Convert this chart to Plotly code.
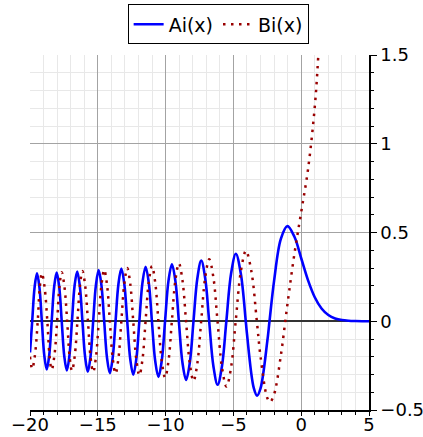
import plotly.graph_objects as go

# Ai(x): values (zeros, extrema, intermediate points)
ai_x = [-20.0, -19.838, -19.661, -19.484, -19.305, -19.126, -18.946, -18.766, -18.584, -18.401,
        -18.217, -18.033, -17.847, -17.661, -17.473, -17.285, -17.096, -16.906, -16.714, -16.521,
        -16.327, -16.133, -15.936, -15.739, -15.540, -15.341, -15.139, -14.937, -14.733, -14.528,
        -14.320, -14.112, -13.902, -13.691, -13.477, -13.263, -13.046, -12.829, -12.607, -12.385,
        -12.161, -11.936, -11.706, -11.475, -11.242, -11.009, -10.769, -10.528, -10.284, -10.040,
        -9.788, -9.535, -9.279, -9.023, -8.756, -8.488, -8.216, -7.944, -7.658, -7.372,
        -7.080, -6.787, -6.475, -6.163, -5.842, -5.521, -5.171, -4.820, -4.454, -4.088,
        -4.0, -3.5, -3.248, -3.0, -2.5, -2.338, -2.0, -1.5, -1.019, -0.5,
        0.0, 0.5, 1.0, 1.5, 2.0, 2.5, 3.0, 3.5, 4.0, 4.5, 5.0]
ai_y = [-0.1762, 0.0, 0.1906, 0.2695, 0.1906, 0.0, -0.1923, -0.2720, -0.1923, 0.0,
        0.1942, 0.2747, 0.1942, 0.0, -0.1963, -0.2776, -0.1963, 0.0, 0.1985, 0.2807,
        0.1985, 0.0, -0.2009, -0.2842, -0.2009, 0.0, 0.2036, 0.2880, 0.2036, 0.0,
        -0.2065, -0.2921, -0.2065, 0.0, 0.2098, 0.2967, 0.2098, 0.0, -0.2134, -0.3018,
        -0.2134, 0.0, 0.2173, 0.3073, 0.2173, 0.0, -0.2219, -0.3138, -0.2219, 0.0,
        0.2273, 0.3215, 0.2273, 0.0, -0.2339, -0.3308, -0.2339, 0.0, 0.2422, 0.3425,
        0.2422, 0.0, -0.2531, -0.3579, -0.2531, 0.0, 0.2690, 0.3804, 0.2690, 0.0,
        -0.0702, -0.3750, -0.4190, -0.3788, -0.1124, 0.0, 0.2274, 0.4642, 0.5357, 0.4757,
        0.3550, 0.2317, 0.1353, 0.0717, 0.0349, 0.0157, 0.0066, 0.0026, 0.0010, 0.0003, 0.0001]

# Bi(x)
bi_x = [-20.0, -19.838, -19.635, -19.431, -19.279, -19.126, -18.924, -18.721, -18.561, -18.401,
        -18.200, -17.998, -17.830, -17.661, -17.460, -17.258, -17.082, -16.905, -16.704, -16.502,
        -16.317, -16.132, -15.930, -15.727, -15.534, -15.340, -15.136, -14.931, -14.729, -14.527,
        -14.319, -14.111, -13.901, -13.690, -13.477, -13.263, -13.045, -12.827, -12.607, -12.386,
        -12.160, -11.934, -11.706, -11.477, -11.242, -11.006, -10.768, -10.530, -10.284, -10.038,
        -9.788, -9.538, -9.279, -9.020, -8.756, -8.492, -8.216, -7.940, -7.659, -7.377,
        -7.079, -6.781, -6.476, -6.170, -5.841, -5.512, -5.172, -4.831, -4.452, -4.073,
        -3.672, -3.271, -3.0, -2.5, -2.294, -2.0, -1.5, -1.174, -1.0, -0.5,
        0.0, 0.5, 1.0, 1.25, 1.5]
bi_y = [-0.2001, -0.2683, -0.1897, 0.0, 0.1915, 0.2708, 0.1915, 0.0, -0.1933, -0.2734,
        -0.1933, 0.0, 0.1953, 0.2762, 0.1953, 0.0, -0.1974, -0.2792, -0.1974, 0.0,
        0.1997, 0.2825, 0.1997, 0.0, -0.2023, -0.2861, -0.2023, 0.0, 0.2050, 0.2900,
        0.2050, 0.0, -0.2081, -0.2944, -0.2081, 0.0, 0.2116, 0.2993, 0.2116, 0.0,
        -0.2153, -0.3045, -0.2153, 0.0, 0.2195, 0.3105, 0.2195, 0.0, -0.2246, -0.3176,
        -0.2246, 0.0, 0.2306, 0.3261, 0.2306, 0.0, -0.2378, -0.3364, -0.2378, 0.0,
        0.2471, 0.3495, 0.2471, 0.0, -0.2602, -0.3680, -0.2602, 0.0, 0.2804, 0.3965,
        0.2804, 0.0, -0.1983, -0.4320, -0.4549, -0.4123, -0.1920, 0.0, 0.1040, 0.3804,
        0.6149, 0.8543, 1.2074, 1.4838, 1.8789]

x_ticks = [-20, -15, -10, -5, 0, 5]
y_ticks = [-0.5, 0, 0.5, 1, 1.5]
y_tick_text = ["−0.5", "0", "0.5", "1", "1.5"]

FONT = "DejaVu Sans"
MAJOR = "#a3a3a3"
MINOR = "#e8e8e8"

fig = go.Figure()
fig.add_trace(go.Scatter(x=ai_x, y=ai_y, mode="lines", name="Ai(x)",
                         line=dict(color="#0000ff", width=2.6, shape="spline")))
fig.add_trace(go.Scatter(x=bi_x, y=bi_y, mode="lines", name="Bi(x)",
                         line=dict(color="#990000", width=2.5, shape="spline", dash="2.5px,5.5px")))

fig.update_layout(
    width=423, height=437,
    margin=dict(l=30, r=54, t=55, b=27, autoexpand=False),
    paper_bgcolor="white", plot_bgcolor="white",
    font=dict(family=FONT, size=18, color="black"),
    showlegend=True,
    legend=dict(orientation="h", x=0.555, xanchor="center", y=1.086, yanchor="middle",
                bordercolor="black", borderwidth=1, bgcolor="white",
                font=dict(size=19), itemwidth=30, tracegroupgap=0),
    xaxis=dict(range=[-20, 5], tickvals=x_ticks, ticktext=[("−%d" % -v) if v < 0 else str(v) for v in x_ticks],
               showgrid=True, gridcolor=MAJOR, gridwidth=1, automargin=False,
               zeroline=False, showline=True, linecolor="black", linewidth=1.5,
               ticks="outside", ticklen=4, tickcolor="black", tickwidth=1,
               ticklabelstandoff=-6,
               minor=dict(dtick=1, showgrid=True, gridcolor=MINOR, gridwidth=1,
                          ticks="outside", ticklen=3, tickcolor="black"),
               tickfont=dict(size=18), fixedrange=True),
    yaxis=dict(range=[-0.5, 1.5], side="right", tickvals=y_ticks, ticktext=y_tick_text,
               showgrid=True, gridcolor=MAJOR, gridwidth=1, automargin=False,
               zeroline=True, zerolinecolor="#333333", zerolinewidth=1.5,
               showline=True, linecolor="black", linewidth=1.5,
               ticks="outside", ticklen=6, tickcolor="black", tickwidth=1,
               minor=dict(dtick=0.1, showgrid=True, gridcolor=MINOR, gridwidth=1,
                          ticks="outside", ticklen=3, tickcolor="black"),
               tickfont=dict(size=18), fixedrange=True),
)

fig.write_html("out.html", config={"displayModeBar": False},
               post_script="document.body.style.margin='0';document.body.style.overflow='hidden';")
